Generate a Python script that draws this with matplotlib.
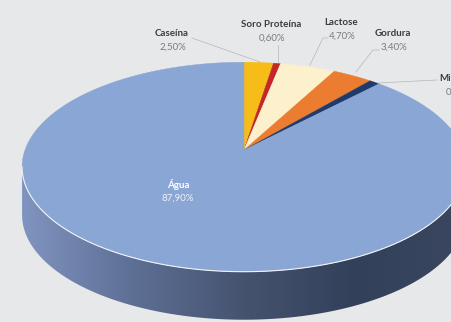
import matplotlib
matplotlib.use("Agg")
import matplotlib.pyplot as plt
import numpy as np
from matplotlib.colors import LinearSegmentedColormap
from matplotlib.patches import Polygon

# data
labels = ["Caseína", "Soro Proteína", "Lactose", "Gordura", "Minerais", "Água"]
values = [2.5, 0.6, 4.7, 3.4, 0.9, 87.9]
value_text = ["2,50%", "0,60%", "4,70%", "3,40%", "0,90%", "87,90%"]
colors = ["#f6bd19", "#c4262a", "#fcf1cc", "#ec7c30", "#1f3b6d", "#8aa6d5"]

# projected pie geometry (pixel space)
cx, cy = 244.0, 150.0
A, B, K = 219.0, 102.0, 0.162
DEPTH = 48.0
BG = "#e7e8ea"


def project(theta):
    u, v = np.cos(theta), np.sin(theta)
    w = 1.0 - K * v
    return cx + A * u / w, cy + B * v / w


fig = plt.figure(figsize=(4.52, 3.22), dpi=100)
fig.patch.set_facecolor(BG)
ax = fig.add_axes([0, 0, 1, 1])
ax.set_xlim(0, 452)
ax.set_ylim(322, 0)
ax.axis("off")

# side wall (front half of the rim)
t0 = np.arcsin(K)
front = np.linspace(t0, np.pi - t0, 300)
fx, fy = project(front)
side_pts = np.column_stack([np.r_[fx, fx[::-1]], np.r_[fy, fy[::-1] + DEPTH]])
side = Polygon(side_pts, closed=True, facecolor="none", edgecolor="none")
ax.add_patch(side)
side_cmap = LinearSegmentedColormap.from_list(
    "side", ["#3a475f", "#33405a", "#45536f", "#5e6f95", "#8094c0"])
grad = np.linspace(0, 1, 256)[::-1].reshape(1, -1)
im = ax.imshow(grad, extent=[fx.min(), fx.max(), fy.max() + DEPTH, fy.min()],
               cmap=side_cmap, aspect="auto", zorder=1)
im.set_clip_path(side)

# top face wedges, clockwise from 12 o'clock
start = -np.pi / 2
for val, col in zip(values, colors):
    span = 2 * np.pi * val / sum(values)
    th = np.linspace(start, start + span, max(int(val * 8), 6))
    px, py = project(th)
    pts = np.column_stack([np.r_[cx, px], np.r_[cy, py]])
    ax.add_patch(Polygon(pts, closed=True, facecolor=col, edgecolor=col,
                         linewidth=0.3, zorder=2))
    start += span

# light rim line between top and side
ax.plot(fx, fy, color="#f2f4f8", linewidth=0.8, zorder=3)

# labels
FS = 7.0
name_kw = dict(fontsize=FS, fontweight="bold", color="#3c3c3c",
               family="Lato", ha="center", va="center", zorder=4)
pct_kw = dict(fontsize=FS, color="#7c7c7c", family="Lato",
              ha="center", va="center", zorder=4)
label_pos = [(172, 33), (271, 24), (341, 22), (393, 33), (458, 78)]
for (lx, ly), name, pct in zip(label_pos, labels[:5], value_text[:5]):
    ax.text(lx, ly, name, **name_kw)
    ax.text(lx + 1, ly + 14, pct, **pct_kw)

ax.text(178, 184, labels[5], fontsize=FS, fontweight="bold", color="white",
        family="Lato", ha="center", va="center", zorder=4)
ax.text(178, 198, value_text[5], fontsize=FS, color="#eef2fa",
        family="Lato", ha="center", va="center", zorder=4)

# leader lines
line_kw = dict(color="#b4b6ba", linewidth=0.5, zorder=4)
ax.plot([192, 260], [38, 62], **line_kw)
ax.plot([278, 278], [45, 62], **line_kw)
ax.plot([328, 323, 310], [38, 38, 65], **line_kw)
ax.plot([379, 373, 356], [50, 50, 72], **line_kw)
ax.plot([378, 437], [83, 80], **line_kw)

fig.savefig("out.png", dpi=100, facecolor=BG)
